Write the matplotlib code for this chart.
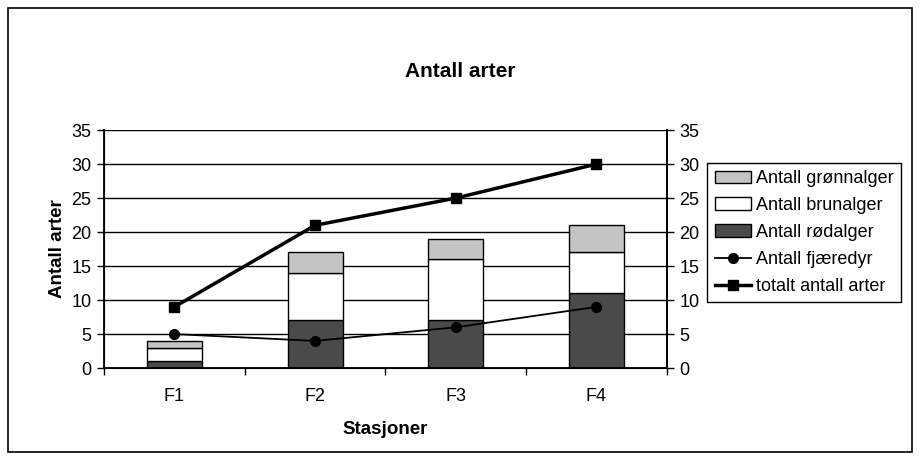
import matplotlib.pyplot as plt
from matplotlib.patches import Rectangle
import numpy as np

stasjoner = ["F1", "F2", "F3", "F4"]
rodalger = [1, 7, 7, 11]
brunalger = [2, 7, 9, 6]
gronnalger = [1, 3, 3, 4]
fjaeredyr = [5, 4, 6, 9]
totalt = [9, 21, 25, 30]

plt.rcParams['font.family'] = ['Liberation Sans', 'DejaVu Sans']

fig = plt.figure(figsize=(9.21, 4.63), dpi=100)
fig.patches.append(Rectangle((0.009, 0.024), 0.981, 0.958, transform=fig.transFigure,
                             fill=False, edgecolor="black", linewidth=1.2))

ax = fig.add_axes([0.113, 0.205, 0.611, 0.514])
x = np.arange(len(stasjoner))
w = 0.39
red_bottom = np.array(rodalger)
brown_bottom = red_bottom + np.array(brunalger)

ax.set_axisbelow(True)
ax.yaxis.grid(True, color="black", linewidth=1)
b1 = ax.bar(x, rodalger, w, color="#4a4a4a", edgecolor="black", linewidth=1,
            label="Antall rødalger")
b2 = ax.bar(x, brunalger, w, bottom=red_bottom, color="white", edgecolor="black",
            linewidth=1, label="Antall brunalger")
b3 = ax.bar(x, gronnalger, w, bottom=brown_bottom, color="#c4c4c4", edgecolor="black",
            linewidth=1, label="Antall grønnalger")
l1, = ax.plot(x, fjaeredyr, color="black", linewidth=1.3, marker="o", markersize=7,
              label="Antall fjæredyr")
l2, = ax.plot(x, totalt, color="black", linewidth=2.5, marker="s", markersize=7,
              label="totalt antall arter")

ax.set_xlim(-0.5, 3.5)
ax.set_ylim(0, 35)
ax.set_yticks(range(0, 36, 5))
ax.set_xticks(x)
ax.set_xticklabels(stasjoner)
ax.set_xticks(np.arange(-0.5, 4, 1), minor=True)
ax.tick_params(axis="x", which="major", length=0, labelsize=13, pad=14)
ax.tick_params(axis="x", which="minor", length=5, width=1, direction="out")
ax.tick_params(axis="y", length=5, width=1, labelsize=13, pad=4)
ax.spines["top"].set_visible(False)
for s in ["left", "right", "bottom"]:
    ax.spines[s].set_linewidth(1.3)

ax2 = ax.twinx()
ax2.set_ylim(0, 35)
ax2.set_yticks(range(0, 36, 5))
ax2.tick_params(axis="y", length=5, width=1, labelsize=13, pad=4)
ax2.spines["top"].set_visible(False)
ax2.spines["right"].set_linewidth(1.3)

fig.text(0.5, 0.845, "Antall arter", fontsize=15, fontweight="bold",
         ha="center", va="center")
ax.set_xlabel("Stasjoner", fontsize=13.5, fontweight="bold", labelpad=11.5)
ax.set_ylabel("Antall arter", fontsize=13.5, fontweight="bold", labelpad=4)

fig.legend([b3, b2, b1, l1, l2],
           ["Antall grønnalger", "Antall brunalger", "Antall rødalger",
            "Antall fjæredyr", "totalt antall arter"],
           loc="upper left", bbox_to_anchor=(0.768, 0.648), fontsize=13,
           frameon=True, fancybox=False, edgecolor="black", framealpha=1,
           borderpad=0.4, labelspacing=0.55, handlelength=2.0, handletextpad=0.3,
           borderaxespad=0)

fig.savefig("out.png", dpi=100)
